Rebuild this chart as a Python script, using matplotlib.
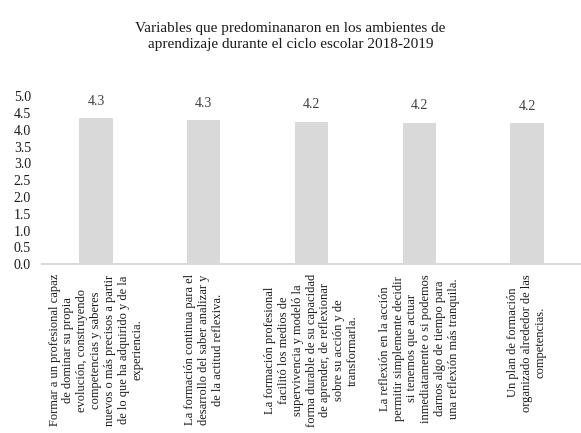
import numpy as np
import matplotlib.pyplot as plt

plt.rcParams['font.family'] = ['Liberation Serif', 'DejaVu Serif']

# datos
etiquetas = [
    'Formar a un profesional capaz\nde dominar su propia\nevolución, construyendo\ncompetencias y saberes\nnuevos o más precisos a partir\nde lo que ha adquirido y de la\nexperiencia.',
    'La formación continua para el\ndesarrollo del saber analizar y\nde la actitud reflexiva.',
    'La formación profesional\nfacilitó los medios de\nsupervivencia y modeló la\nforma durable de su capacidad\nde aprender, de reflexionar\nsobre su acción y de\ntransformarla.',
    'La reflexión en la acción\npermitir simplemente decidir\nsi tenemos que actuar\ninmediatamente o si podemos\ndarnos algo de tiempo para\nuna reflexión más tranquila.',
    'Un plan de formación\norganizado alrededor de las\ncompetencias.',
]
valores = [4.35, 4.29, 4.24, 4.21, 4.19]
yticks = [0.0, 0.5, 1.0, 1.5, 2.0, 2.5, 3.0, 3.5, 4.0, 4.5, 5.0]

fig = plt.figure(figsize=(5.81, 4.33), dpi=100)
ax = fig.add_axes([0.0723, 0.39, 0.9277, 0.388])

x = np.arange(len(valores))
bars = ax.bar(x, valores, width=0.31, color='#d9d9d9')
for b, v in zip(bars, valores):
    ax.text(b.get_x() + b.get_width() / 2, v + 0.5, '%.1f' % v,
            ha='center', va='center', fontsize=10, color='#404040')

ax.set_xlim(-0.5, len(valores) - 0.5)
ax.set_ylim(0, 5)
ax.set_yticks(yticks)
ax.set_yticklabels(['%.1f' % t for t in yticks], fontsize=10, color='#1a1a1a')
ax.set_xticks(x)
ax.set_xticklabels(etiquetas, rotation=90, fontsize=9, color='#1a1a1a',
                   ha='center', va='top', multialignment='center', linespacing=1.2)
ax.tick_params(axis='both', length=0)
ax.tick_params(axis='x', pad=7)
ax.tick_params(axis='y', pad=8)

for s in ['top', 'right', 'left']:
    ax.spines[s].set_visible(False)
ax.spines['bottom'].set_color('#d9d9d9')
ax.spines['bottom'].set_linewidth(1.5)

fig.text(0.5, 0.916, 'Variables que predominanaron en los ambientes de\naprendizaje durante el ciclo escolar 2018-2019',
         ha='center', va='center', fontsize=11, color='#1a1a1a', linespacing=1.35)

fig.savefig('out.png', dpi=100)
